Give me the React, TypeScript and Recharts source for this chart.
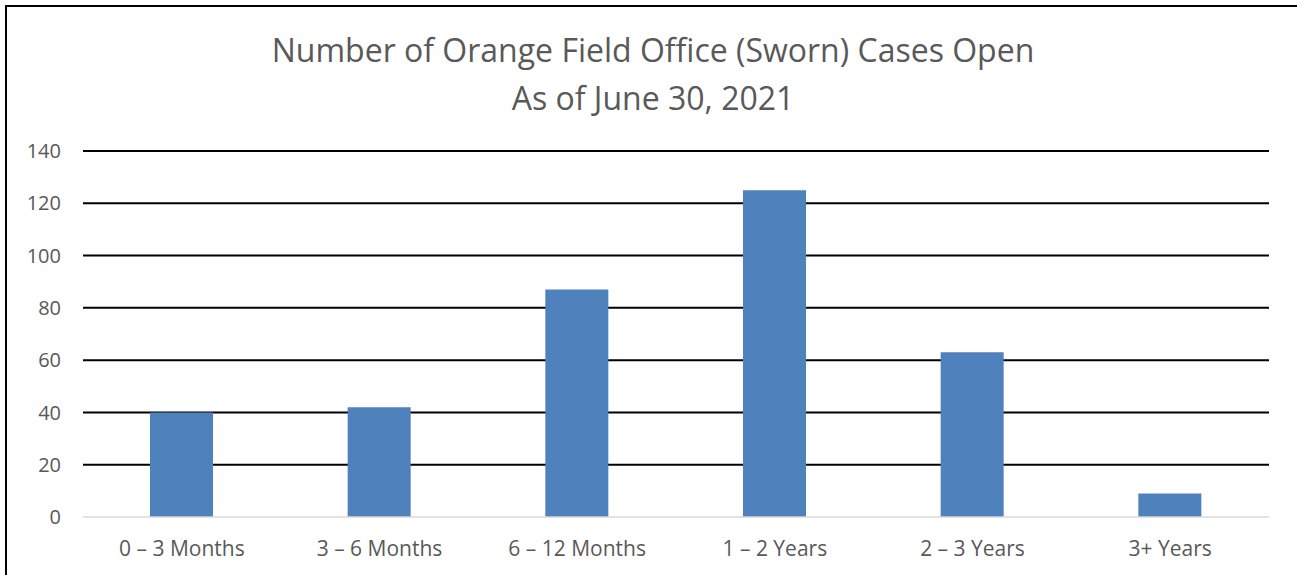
import { BarChart, Bar, XAxis, YAxis, CartesianGrid } from "recharts"

const categories = ["0 – 3 Months", "3 – 6 Months", "6 – 12 Months", "1 – 2 Years", "2 – 3 Years", "3+ Years"]
const openCases = [40, 42, 87, 125, 63, 9]
const yTicks = [0, 20, 40, 60, 80, 100, 120, 140]
const gridValues = [20, 40, 60, 80, 100, 120, 140]

const data = categories.map((c, i) => ({ name: c, cases: openCases[i] }))

const FONT = "'Open Sans', sans-serif"
const TEXT = "#595959"

export default function App() {
  return (
    <div style={{ position: "relative", width: 1297, height: 575, overflow: "hidden", background: "#fff", fontFamily: FONT }}>
      <style>{"body{margin:0}"}</style>
      {/* outer frame, only left and top edges are visible */}
      <div style={{ position: "absolute", left: 5, top: 5, width: 1400, height: 700, borderLeft: "2px solid #000", borderTop: "2px solid #000" }} />
      <div style={{ position: "absolute", left: 0, top: 26, width: 1306, textAlign: "center", color: TEXT, fontSize: 32, lineHeight: "48px" }}>
        Number of Orange Field Office (Sworn) Cases Open<br />As of June 30, 2021
      </div>
      <div style={{ position: "absolute", left: 0, top: 0 }}>
        <BarChart width={1297} height={575} data={data} margin={{ top: 151, right: 28, bottom: 0, left: 23 }}>
          <CartesianGrid vertical={false} horizontalValues={gridValues} stroke="#000" strokeWidth={2} />
          <XAxis
            dataKey="name"
            tick={{ fill: TEXT, fontSize: 21, fontFamily: FONT }}
            tickLine={false}
            tickSize={0}
            tickMargin={24}
            axisLine={{ stroke: "#d9d9d9", strokeWidth: 1.5 }}
            height={58}
          />
          <YAxis
            domain={[0, 140]}
            ticks={yTicks}
            tick={{ fill: TEXT, fontSize: 20, fontFamily: FONT }}
            tickLine={false}
            tickSize={0}
            tickMargin={22}
            axisLine={false}
            width={60}
          />
          <Bar dataKey="cases" fill="#4f81bd" barSize={63} isAnimationActive={false} />
        </BarChart>
      </div>
    </div>
  )
}
